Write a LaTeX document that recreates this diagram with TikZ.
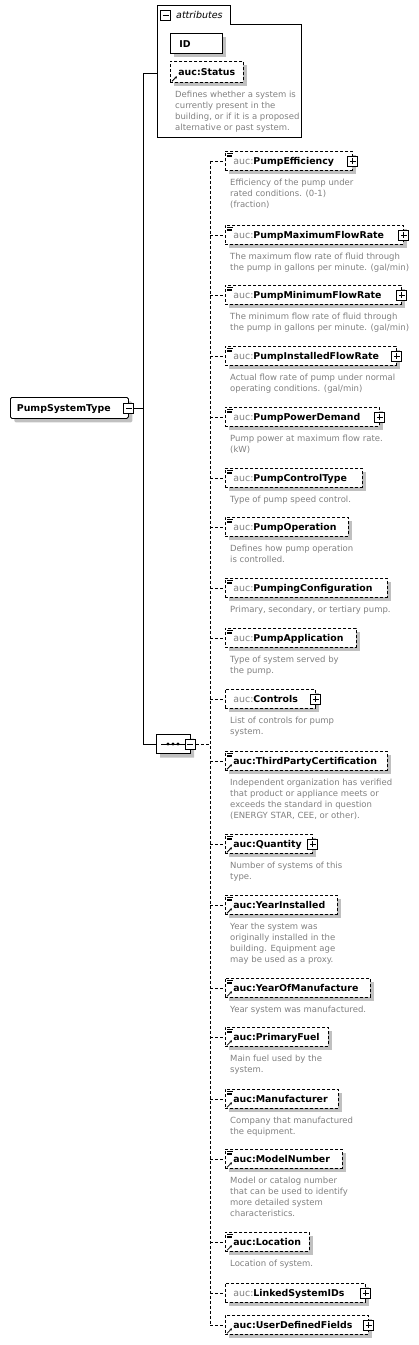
\documentclass[tikz,border=0pt]{standalone}
\usepackage{fontspec}
\setmainfont{DejaVu Sans}
\usetikzlibrary{calc}
\usetikzlibrary{shapes.misc}
\usetikzlibrary{shadows}
\usetikzlibrary{arrows.meta}

\definecolor{aucgray}{RGB}{128,128,128}
\definecolor{descgray}{RGB}{128,128,128}
\definecolor{shadowgray}{RGB}{192,192,192}

\newcommand{\aucg}[1]{{\color{aucgray}\mdseries auc:}#1}
% small marks inside the element boxes
\newcommand{\contentmark}[1]{%
  \draw[solid, line width=0.6pt] ([shift={(2,2)}]#1.north west) -- ++(5.5,0)
    ([shift={(2,3.8)}]#1.north west) -- ++(4.5,0)
    ([shift={(2,5.6)}]#1.north west) -- ++(4.5,0);}
\newcommand{\refmark}[1]{%
  \draw[solid, line width=0.8pt, -{Stealth[length=2.5pt,width=2.5pt]}] ([shift={(2,-1.5)}]#1.south west) -- ++(5,-5);}

\begin{document}
\begin{tikzpicture}
  [
    x=1pt, y=-1pt,
    shadowed/.style = {drop shadow={shadow xshift=4pt, shadow yshift=-4pt, fill=shadowgray, opacity=1}},
    indent/.style = {execute at begin node=\noindent\hspace*{#1pt}},
    box/.style  = {draw, solid, fill=white, shadowed, line width=0.8pt, anchor=north west, minimum height=19pt, inner sep=0pt,
                   text height=8.2pt, text depth=0.6pt, align=left, font=\fontsize{9.4}{12}\selectfont\bfseries},
    elem/.style = {box, indent=8, dash pattern=on 3pt off 2pt, text width=#1pt},
    desc/.style = {anchor=north west, inner sep=0pt, align=left, text=descgray, font=\fontsize{8.5}{11}\selectfont},
    plus/.style = {draw, solid, fill=white, line width=0.8pt, minimum size=10pt, inner sep=0pt,
                   path picture={\draw[line width=0.8pt] ([xshift=2pt]path picture bounding box.west) -- ([xshift=-2pt]path picture bounding box.east)
                     ([yshift=-2pt]path picture bounding box.north) -- ([yshift=2pt]path picture bounding box.south);}},
    minus/.style = {draw, solid, fill=white, line width=0.8pt, minimum size=10pt, inner sep=0pt,
                   path picture={\draw[line width=0.8pt] ([xshift=2pt]path picture bounding box.west) -- ([xshift=-2pt]path picture bounding box.east);}},
    link/.style = {line width=0.8pt},
    optlink/.style = {line width=0.8pt, dash pattern=on 3pt off 2pt},
  ]

  \useasboundingbox (0,0) rectangle (418,1345);

  % the complex type
  \node[box, indent=6.5, rounded corners=1.5pt, minimum height=21pt, text width=118pt] (pst) at (10,397) {PumpSystemType};
  \node[minus] (pstminus) at (pst.east) {};

  % the attributes
  \draw[line width=0.8pt] (157,5) -- (230,5) -- (230,24) -- (301,24) -- (301,137) -- (157,137) -- cycle;
  \node[minus] (attrminus) at (165.7,15) {};
  \node[anchor=base west, inner sep=0pt, font=\fontsize{9.5}{12}\selectfont\itshape] (attrtitle) at (176,18.5) {attributes};
  \node[box, indent=9, text width=52pt, minimum height=20pt] (id) at (170,33) {ID};
  \node[elem=73, minimum height=21pt] (status) at (170,61) {auc:Status};
  \refmark{status}
  \node[desc] (statusdesc) at ($(status.south west)+(5,8.5)$) {Defines whether a system is\\currently present in the\\building, or if it is a proposed\\alternative or past system.};
  \coordinate (attrin) at (157,73);

  % the sequence
  \node[draw, solid, fill=white, shadowed, line width=0.8pt, chamfered rectangle, chamfered rectangle xsep=5pt, chamfered rectangle ysep=5pt,
        minimum width=34pt, minimum height=19pt, inner sep=0pt] (seq) at (173,744) {};
  \draw[line width=0.8pt] ([xshift=-12]seq.center) -- ([xshift=12]seq.center);
  \fill ([xshift=-5]seq.center) circle (1.6pt) (seq.center) circle (1.6pt) ([xshift=5]seq.center) circle (1.6pt);
  \node[minus] (seqminus) at (seq.east) {};

  % the elements
  \node[elem=127] (eff) at (225,151) {\aucg{PumpEfficiency}};
  \node[plus] (effplus) at (eff.east) {};
  \contentmark{eff}
  \node[desc] (effdesc) at ($(eff.south west)+(5,8)$) {Efficiency of the pump under\\rated conditions. (0-1)\\(fraction)};

  \node[elem=178] (maxflow) at (225,225) {\aucg{PumpMaximumFlowRate}};
  \node[plus] (maxflowplus) at (maxflow.east) {};
  \contentmark{maxflow}
  \node[desc] (maxflowdesc) at ($(maxflow.south west)+(5,8)$) {The maximum flow rate of fluid through\\the pump in gallons per minute. (gal/min)};

  \node[elem=176] (minflow) at (225,285) {\aucg{PumpMinimumFlowRate}};
  \node[plus] (minflowplus) at (minflow.east) {};
  \contentmark{minflow}
  \node[desc] (minflowdesc) at ($(minflow.south west)+(5,8)$) {The minimum flow rate of fluid through\\the pump in gallons per minute. (gal/min)};

  \node[elem=171] (instflow) at (225,346) {\aucg{PumpInstalledFlowRate}};
  \node[plus] (instflowplus) at (instflow.east) {};
  \contentmark{instflow}
  \node[desc] (instflowdesc) at ($(instflow.south west)+(5,8)$) {Actual flow rate of pump under normal\\operating conditions. (gal/min)};

  \node[elem=154] (power) at (225,407) {\aucg{PumpPowerDemand}};
  \node[plus] (powerplus) at (power.east) {};
  \contentmark{power}
  \node[desc] (powerdesc) at ($(power.south west)+(5,8)$) {Pump power at maximum flow rate.\\(kW)};

  \node[elem=137] (ctrltype) at (225,468) {\aucg{PumpControlType}};
  \contentmark{ctrltype}
  \node[desc] (ctrltypedesc) at ($(ctrltype.south west)+(5,8)$) {Type of pump speed control.};

  \node[elem=123] (operation) at (225,517) {\aucg{PumpOperation}};
  \contentmark{operation}
  \node[desc] (operationdesc) at ($(operation.south west)+(5,8)$) {Defines how pump operation\\is controlled.};

  \node[elem=162] (config) at (225,578) {\aucg{PumpingConfiguration}};
  \contentmark{config}
  \node[desc] (configdesc) at ($(config.south west)+(5,8)$) {Primary, secondary, or tertiary pump.};

  \node[elem=131] (appl) at (225,628) {\aucg{PumpApplication}};
  \contentmark{appl}
  \node[desc] (appldesc) at ($(appl.south west)+(5,8)$) {Type of system served by\\the pump.};

  \node[elem=90] (controls) at (225,689) {\aucg{Controls}};
  \node[plus] (controlsplus) at (controls.east) {};
  \node[desc] (controlsdesc) at ($(controls.south west)+(5,8)$) {List of controls for pump\\system.};

  \node[elem=162] (thirdparty) at (225,751) {auc:ThirdPartyCertification};
  \contentmark{thirdparty}
  \refmark{thirdparty}
  \node[desc] (thirdpartydesc) at ($(thirdparty.south west)+(5,8)$) {Independent organization has verified\\that product or appliance meets or\\exceeds the standard in question\\(ENERGY STAR, CEE, or other).};

  \node[elem=87] (quantity) at (225,834) {auc:Quantity};
  \node[plus] (quantityplus) at (quantity.east) {};
  \contentmark{quantity}
  \refmark{quantity}
  \node[desc] (quantitydesc) at ($(quantity.south west)+(5,8)$) {Number of systems of this\\type.};

  \node[elem=112] (yearinst) at (225,895) {auc:YearInstalled};
  \contentmark{yearinst}
  \refmark{yearinst}
  \node[desc] (yearinstdesc) at ($(yearinst.south west)+(5,8)$) {Year the system was\\originally installed in the\\building. Equipment age\\may be used as a proxy.};

  \node[elem=145] (yearmfr) at (225,978) {auc:YearOfManufacture};
  \contentmark{yearmfr}
  \refmark{yearmfr}
  \node[desc] (yearmfrdesc) at ($(yearmfr.south west)+(5,8)$) {Year system was manufactured.};

  \node[elem=103] (fuel) at (225,1027) {auc:PrimaryFuel};
  \contentmark{fuel}
  \refmark{fuel}
  \node[desc] (fueldesc) at ($(fuel.south west)+(5,8)$) {Main fuel used by the\\system.};

  \node[elem=113] (mfr) at (225,1089) {auc:Manufacturer};
  \contentmark{mfr}
  \refmark{mfr}
  \node[desc] (mfrdesc) at ($(mfr.south west)+(5,8)$) {Company that manufactured\\the equipment.};

  \node[elem=117] (model) at (225,1149) {auc:ModelNumber};
  \contentmark{model}
  \refmark{model}
  \node[desc] (modeldesc) at ($(model.south west)+(5,8)$) {Model or catalog number\\that can be used to identify\\more detailed system\\characteristics.};

  \node[elem=84] (location) at (225,1232) {auc:Location};
  \contentmark{location}
  \refmark{location}
  \node[desc] (locationdesc) at ($(location.south west)+(5,8)$) {Location of system.};

  \node[elem=140] (linked) at (225,1283) {\aucg{LinkedSystemIDs}};
  \node[plus] (linkedplus) at (linked.east) {};

  \node[elem=143] (udf) at (225,1315) {auc:UserDefinedFields};
  \node[plus] (udfplus) at (udf.east) {};
  \refmark{udf}

  % connectors
  \coordinate (trunk) at ($(pstminus.east)+(9.5,0)$);
  \draw[link] (pstminus.east) -- (trunk) |- (attrin);
  \draw[link] (trunk) |- (seq.west);
  \coordinate (bus) at (210,744);
  \draw[optlink] (seqminus.east) -- (bus);
  \draw[optlink] (bus |- eff.west) -- (bus |- udf.west);
  \draw[optlink] (bus |- eff.west) -- (eff.west);
  \draw[optlink] (bus |- maxflow.west) -- (maxflow.west);
  \draw[optlink] (bus |- minflow.west) -- (minflow.west);
  \draw[optlink] (bus |- instflow.west) -- (instflow.west);
  \draw[optlink] (bus |- power.west) -- (power.west);
  \draw[optlink] (bus |- ctrltype.west) -- (ctrltype.west);
  \draw[optlink] (bus |- operation.west) -- (operation.west);
  \draw[optlink] (bus |- config.west) -- (config.west);
  \draw[optlink] (bus |- appl.west) -- (appl.west);
  \draw[optlink] (bus |- controls.west) -- (controls.west);
  \draw[optlink] (bus |- thirdparty.west) -- (thirdparty.west);
  \draw[optlink] (bus |- quantity.west) -- (quantity.west);
  \draw[optlink] (bus |- yearinst.west) -- (yearinst.west);
  \draw[optlink] (bus |- yearmfr.west) -- (yearmfr.west);
  \draw[optlink] (bus |- fuel.west) -- (fuel.west);
  \draw[optlink] (bus |- mfr.west) -- (mfr.west);
  \draw[optlink] (bus |- model.west) -- (model.west);
  \draw[optlink] (bus |- location.west) -- (location.west);
  \draw[optlink] (bus |- linked.west) -- (linked.west);
  \draw[optlink] (bus |- udf.west) -- (udf.west);

\end{tikzpicture}
\end{document}
